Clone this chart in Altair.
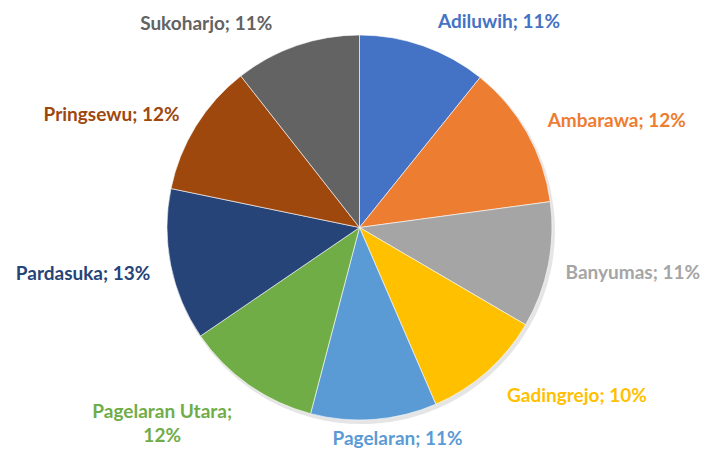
import math
import altair as alt
import pandas as pd

# ---- data ----
categories = ["Adiluwih", "Ambarawa", "Banyumas", "Gadingrejo", "Pagelaran",
              "Pagelaran Utara", "Pardasuka", "Pringsewu", "Sukoharjo"]
shares = [10.8, 12.1, 10.6, 10.1, 10.6, 11.4, 12.8, 11.2, 10.6]
pct_labels = ["11%", "12%", "11%", "10%", "11%", "12%", "13%", "12%", "11%"]
colors = ["#4472C4", "#ED7D31", "#A5A5A5", "#FFC000", "#5B9BD5",
          "#70AD47", "#264478", "#9E480E", "#636363"]

# ---- label layout (style only) ----
# align, dx, dy relative to the slice's mid-angle anchor; wrap = two-line label
label_layout = {
    "Adiluwih":        ("left",   12, -11, False),
    "Ambarawa":        ("left",   14,  -2, False),
    "Banyumas":        ("left",   10,  12, False),
    "Gadingrejo":      ("left",   15,  25, False),
    "Pagelaran":       ("center", 23,  18, False),
    "Pagelaran Utara": ("center", -82, 27, True),
    "Pardasuka":       ("right", -13,  13, False),
    "Pringsewu":       ("right", -10,  -1, False),
    "Sukoharjo":       ("right", -22,  -8, False),
}

labels = []
for c, p in zip(categories, pct_labels):
    sep = ";\n" if label_layout[c][3] else "; "
    labels.append(c + sep + p)

df = pd.DataFrame({
    "category": categories,
    "share": shares,
    "label": labels,
    "order": list(range(len(categories))),
})

total = sum(shares)
theta_scale = alt.Scale(domain=[0, total], range=[0, 2 * math.pi])
cx, cy = 351.5, 219.5
R = 192.5
color_scale = alt.Scale(domain=categories, range=colors)

shadow = alt.Chart().mark_arc(outerRadius=R + 1, color="#000000", opacity=0.10).encode(
    theta=alt.Theta("start:Q", scale=theta_scale),
    theta2="cum:Q",
    x=alt.value(cx + 2),
    y=alt.value(cy + 3),
)

pie = alt.Chart().mark_arc(outerRadius=R, stroke="white", strokeWidth=0.6).encode(
    theta=alt.Theta("start:Q", scale=theta_scale),
    theta2="cum:Q",
    color=alt.Color("category:N", scale=color_scale, legend=None),
    x=alt.value(cx),
    y=alt.value(cy),
)

text_layers = []
for i, c in enumerate(categories):
    align, dx, dy, _ = label_layout[c]
    t = (
        alt.Chart()
        .transform_filter(alt.datum.category == c)
        .mark_text(
            radius=200, align=align, baseline="alphabetic", dx=dx, dy=dy,
            font="Lato", fontWeight="bold", fontSize=19, lineBreak="\n",
            lineHeight=24, color=colors[i],
        )
        .encode(
            theta=alt.Theta("mid:Q", scale=theta_scale),
            text="label:N",
            x=alt.value(cx),
            y=alt.value(cy),
        )
    )
    text_layers.append(t)

chart = (
    alt.layer(shadow, pie, *text_layers, data=df)
    .transform_window(cum="sum(share)", sort=[alt.SortField("order")], frame=[None, 0])
    .transform_calculate(start="datum.cum - datum.share", mid="datum.cum - datum.share / 2")
    .properties(width=694, height=441, padding=0, autosize="none", background="white")
    .configure_view(strokeWidth=0)
)

chart.save("out.html", embed_options={"renderer": "svg", "actions": False})
